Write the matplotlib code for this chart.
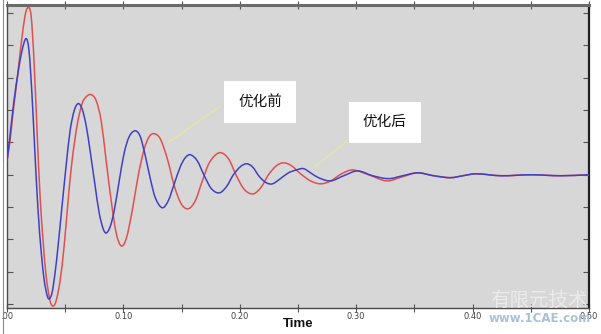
import numpy as np
import matplotlib
matplotlib.use("Agg")
import matplotlib.pyplot as plt
from matplotlib.path import Path
from matplotlib.patches import PathPatch

# Response histories (time in s, response in plot units)
t_before = [0, .0026, .0052, .0086, .0120, .0155, .0181, .0207, .0232, .0258, .0284, .0310,
            .0336, .0370, .0396, .0422, .0456, .0491, .0525, .0559, .0602, .0645, .0680, .0723,
            .0766, .0809, .0852, .0895, .0938, .0981, .1024, .1076, .1127, .1179, .1222, .1265,
            .1317, .1377, .1437, .1497, .1558, .1618, .1678, .1738, .1824, .1902, .1971, .2040,
            .2117, .2186, .2246, .2315, .2375, .2444, .2522, .2608, .2694, .2780, .2874, .2969,
            .3107, .3262, .3399, .3528, .3666, .3812, .3916, .4028, .4243, .4501, .4759, .50]
v_before = [0.43, 1.05, 1.92, 2.91, 3.99, 4.92, 5.17, 4.92, 3.53, 1.36, -0.65, -2.04,
            -3.13, -3.90, -4.06, -3.90, -3.28, -2.20, -0.80, 0.43, 1.52, 2.20, 2.41, 2.48,
            2.29, 1.67, 0.43, -0.80, -1.80, -2.20, -1.98, -1.11, -0.03, 0.80, 1.18, 1.27,
            1.11, 0.50, -0.34, -0.90, -1.05, -0.80, -0.19, 0.37, 0.68, 0.50, -0.03, -0.46,
            -0.59, -0.37, 0.00, 0.28, 0.37, 0.28, 0.03, -0.19, -0.28, -0.19, 0.03, 0.15,
            0.00, -0.19, -0.06, 0.06, -0.03, -0.09, -0.03, 0.03, -0.03, 0.00, -0.03, 0.00]

t_after = [0, .0026, .0060, .0095, .0129, .0164, .0189, .0215, .0241, .0267, .0293, .0318,
           .0344, .0361, .0387, .0413, .0439, .0473, .0508, .0542, .0577, .0611, .0645, .0680,
           .0714, .0757, .0792, .0826, .0852, .0886, .0921, .0964, .1007, .1050, .1102, .1145,
           .1188, .1231, .1274, .1334, .1386, .1437, .1489, .1532, .1575, .1635, .1695, .1756,
           .1824, .1885, .1945, .2005, .2057, .2108, .2169, .2229, .2281, .2349, .2418, .2487,
           .2547, .2608, .2676, .2780, .2892, .3012, .3141, .3279, .3399, .3528, .3666, .3812,
           .3916, .4028, .4243, .4501, .4759, .50]
v_after = [0.43, 1.21, 2.29, 3.16, 3.84, 4.21, 3.84, 2.45, 0.59, -1.11, -2.35, -3.22,
           -3.72, -3.84, -3.65, -3.03, -2.20, -0.96, 0.28, 1.36, 1.98, 2.20, 2.04, 1.52,
           0.74, -0.34, -1.18, -1.67, -1.80, -1.61, -1.11, -0.19, 0.68, 1.18, 1.36, 1.18,
           0.59, -0.12, -0.71, -1.02, -0.80, -0.28, 0.25, 0.53, 0.62, 0.43, -0.03, -0.43,
           -0.56, -0.37, 0.00, 0.25, 0.34, 0.25, -0.06, -0.25, -0.28, -0.12, 0.06, 0.15,
           0.19, 0.06, -0.09, -0.19, -0.03, 0.12, -0.03, -0.12, -0.03, 0.06, -0.03, -0.09,
           -0.03, 0.03, -0.03, 0.00, -0.03, 0.00]

x_ticks = [0.0, 0.05, 0.10, 0.15, 0.20, 0.25, 0.30, 0.35, 0.40, 0.45, 0.50]
x_tick_labels = [".00", "", "0.10", "", "0.20", "", "0.30", "", "0.40", "", "0.50"]
y_ticks = [-4, -3, -2, -1, 0, 1, 2, 3, 4, 5]
label_before = "优化前"
label_after = "优化后"


def smooth_path(x, y):
    """Cubic Bezier path through the points with Catmull-Rom tangents."""
    x = np.asarray(x, float)
    y = np.asarray(y, float)
    h = np.diff(x)
    m = np.empty_like(x)
    m[1:-1] = (y[2:] - y[:-2]) / (x[2:] - x[:-2])
    m[0] = (y[1] - y[0]) / h[0]
    m[-1] = (y[-1] - y[-2]) / h[-1]
    verts = [(x[0], y[0])]
    codes = [Path.MOVETO]
    for k in range(len(x) - 1):
        verts += [(x[k] + h[k] / 3, y[k] + m[k] * h[k] / 3),
                  (x[k + 1] - h[k] / 3, y[k + 1] - m[k + 1] * h[k] / 3),
                  (x[k + 1], y[k + 1])]
        codes += [Path.CURVE4] * 3
    return Path(verts, codes)


fig = plt.figure(figsize=(6.01, 3.34), dpi=100)
fig.patch.set_facecolor("white")
ax = fig.add_axes([7 / 601, 26 / 334, 582 / 601, 303 / 334])
ax.set_facecolor("#d7d7d7")

ax.add_patch(PathPatch(smooth_path(t_before, v_before), fill=False,
                       edgecolor="#e05050", lw=1.1, zorder=3))
ax.add_patch(PathPatch(smooth_path(t_after, v_after), fill=False,
                       edgecolor="#4040c4", lw=1.1, zorder=4))

ax.set_xlim(0, 0.5)
ax.set_ylim(-4.12, 5.25)

ax.set_xticks(x_ticks)
ax.set_xticklabels(x_tick_labels, fontsize=6, color="#444444",
                   family="DejaVu Sans")
ax.set_yticks(y_ticks)
ax.set_yticklabels([])
ax.tick_params(axis="x", which="both", direction="inout", length=6, width=0.8,
               colors="#555555", top=True, pad=0, labelcolor="#444444")
ax.tick_params(axis="y", which="both", direction="in", length=4, width=0.8,
               colors="#555555", right=True)

for side, sp in ax.spines.items():
    sp.set_color("#4a4a4a")
    sp.set_linewidth(1.0)
ax.spines["top"].set_linewidth(2.2)
ax.spines["top"].set_color("#6a6a6a")
ax.spines["right"].set_linewidth(1.6)
ax.spines["right"].set_color("#202020")

fig.text(298 / 601, 1 - 324 / 334, "Time", fontsize=9.5, fontweight="bold",
         family="Liberation Sans", color="#111111", ha="center", va="center")

# leader lines from the callouts to the curves
ax.annotate("", xy=(0.1368, 0.96), xytext=(0.185, 2.16),
            arrowprops=dict(arrowstyle="-", color="#e6e6a0", lw=1.0))
ax.annotate("", xy=(0.2625, 0.19), xytext=(0.2935, 1.08),
            arrowprops=dict(arrowstyle="-", color="#e6e6a0", lw=1.0))

cjk = ["Noto Sans CJK SC", "DejaVu Sans"]
ax.text(0.2175, 2.26, label_before, fontsize=10.5, family=cjk, color="#111111",
        ha="center", va="center", zorder=6,
        bbox=dict(boxstyle="square,pad=0.95", fc="white", ec="none"))
ax.text(0.3245, 1.62, label_after, fontsize=10.5, family=cjk, color="#111111",
        ha="center", va="center", zorder=6,
        bbox=dict(boxstyle="square,pad=0.95", fc="white", ec="none"))

# site watermark
fig.text(539 / 601, 1 - 300 / 334, "有限元技术", fontsize=14, family=cjk,
         color="#ebebeb", ha="center", va="center")
fig.text(540 / 601, 1 - 318 / 334, "www.1CAE.com", fontsize=8.5,
         family="DejaVu Sans", fontweight="bold", color="#a9c0d8",
         ha="center", va="center")

# outer frame line on the left
fig.add_artist(plt.Line2D([3 / 601, 3 / 601], [0, 1], color="#8a8a8a", lw=0.8))

fig.savefig("out.png", dpi=100)
